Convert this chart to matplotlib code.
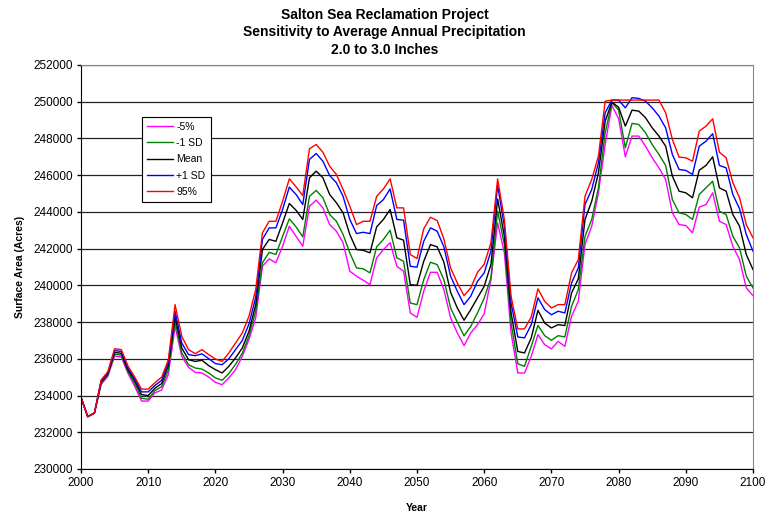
import numpy as np
import matplotlib
matplotlib.use("Agg")
import matplotlib.pyplot as plt

plt.rcParams['font.family'] = ['Liberation Sans', 'DejaVu Sans']

# Surface area (acres) by year
years = np.arange(2000, 2101)

pct5 = [233900, 232850, 233050, 234600, 235050, 236150, 236100, 235200, 234500, 233700,
        233700, 234150, 234300, 235150, 237770, 236130, 235540, 235260, 235230, 235010,
        234720, 234590, 234960, 235410, 236130, 237050, 238230, 241040, 241440, 241230,
        242130, 243220, 242670, 242130, 244310, 244640, 244220, 243310, 242950, 242320,
        240770, 240500, 240280, 240040, 241500, 241950, 242320, 241040, 240770, 238500,
        238260, 239680, 240710, 240710, 239770, 238230, 237410, 236720, 237410, 237860,
        238450, 240310, 243400, 241770, 237410, 235230, 235230, 236130, 237320, 236770,
        236540, 236950, 236680, 238320, 239130, 242220, 243220, 245040, 247670, 249800,
        249080, 247000, 248130, 248130, 247580, 246950, 246400, 245770, 243950, 243310,
        243260, 242860, 244260, 244400, 245040, 243490, 243310, 242130, 241400, 239860,
        239440]

minus_sd = [233900, 232850, 233050, 234680, 235120, 236250, 236200, 235300, 234650, 233850,
            233800, 234270, 234480, 235400, 238040, 236320, 235680, 235500, 235440, 235230,
            234960, 234830, 235200, 235700, 236300, 237250, 238600, 241230, 241800, 241680,
            242670, 243620, 243190, 242640, 244850, 245170, 244770, 243860, 243490, 242770,
            241770, 240950, 240900, 240680, 242100, 242500, 243000, 241500, 241310, 239040,
            238950, 240310, 241260, 241130, 240310, 238770, 237990, 237250, 237770, 238500,
            239300, 240410, 244040, 242220, 237950, 235730, 235590, 236680, 237820, 237260,
            237010, 237260, 237190, 238860, 239770, 242670, 243590, 245310, 248310, 249950,
            249550, 247490, 248820, 248760, 248310, 247670, 247130, 246530, 244670, 243950,
            243860, 243590, 244950, 245310, 245670, 244040, 243860, 242670, 242040, 240500,
            239860]

mean = [233900, 232850, 233050, 234750, 235200, 236350, 236300, 235400, 234800, 234050,
        234000, 234400, 234650, 235650, 238310, 236590, 235950, 235860, 235920, 235630,
        235410, 235230, 235590, 236050, 236590, 237500, 238950, 241950, 242500, 242400,
        243400, 244460, 244090, 243590, 245860, 246220, 245860, 244950, 244500, 243950,
        242770, 241950, 241910, 241770, 243190, 243590, 244130, 242590, 242460, 240040,
        240000, 241310, 242220, 242100, 241260, 239620, 238770, 238100, 238680, 239320,
        239950, 241130, 244700, 242680, 238500, 236400, 236320, 237140, 238640, 237950,
        237680, 237860, 237810, 239590, 240350, 243590, 244580, 246130, 248940, 249980,
        249700, 248670, 249540, 249490, 249130, 248580, 248130, 247580, 245950, 245130,
        245040, 244770, 246270, 246530, 247000, 245310, 245130, 243860, 243220, 241680,
        240860]

plus_sd = [233900, 232850, 233050, 234800, 235250, 236450, 236400, 235500, 234900, 234200,
           234200, 234550, 234830, 235800, 238590, 236860, 236230, 236170, 236270, 236010,
           235740, 235680, 236000, 236500, 237000, 237900, 239350, 242500, 243130, 243130,
           244130, 245350, 244950, 244400, 246860, 247180, 246760, 245980, 245590, 244850,
           243590, 242820, 242890, 242820, 244350, 244670, 245250, 243590, 243550, 241040,
           240990, 242400, 243130, 242950, 242100, 240500, 239680, 238950, 239410, 240220,
           240680, 241860, 245440, 243220, 239040, 237190, 237140, 237860, 239320, 238680,
           238400, 238590, 238500, 240130, 240950, 244400, 245220, 246680, 249400, 250090,
           250090, 249670, 250220, 250180, 250030, 249670, 249220, 248580, 247130, 246310,
           246260, 246040, 247580, 247850, 248260, 246530, 246400, 244950, 244170, 242770,
           241860]

pct95 = [233900, 232850, 233050, 234850, 235300, 236550, 236500, 235600, 235000, 234350,
         234350, 234700, 235000, 235950, 238950, 237220, 236500, 236280, 236500, 236230,
         235990, 235860, 236320, 236860, 237410, 238320, 239770, 242860, 243490, 243490,
         244580, 245800, 245370, 244890, 247440, 247670, 247250, 246490, 246040, 245220,
         244310, 243310, 243490, 243490, 244850, 245250, 245800, 244220, 244220, 241680,
         241460, 243080, 243710, 243530, 242530, 240950, 240130, 239440, 239860, 240710,
         241150, 242320, 245800, 243590, 239400, 237630, 237630, 238280, 239810, 239130,
         238770, 238950, 238950, 240680, 241400, 244850, 245770, 247040, 250030, 250090,
         250090, 250090, 250090, 250090, 250090, 250090, 250090, 249400, 247950, 246980,
         246950, 246760, 248400, 248670, 249070, 247250, 246950, 245590, 244770, 243310,
         242590]

labels = ['-5%', '-1 SD', 'Mean', '+1 SD', '95%']
colors = ['#ff00ff', '#008000', '#000000', '#0000ff', '#ff0000']

fig = plt.figure(figsize=(7.69, 5.18), dpi=100)
ax = fig.add_axes([81 / 769, 1 - 469 / 518, 672 / 769, 404 / 518])

# draw the lines
for vals, lab, col in zip([pct5, minus_sd, mean, plus_sd, pct95], labels, colors):
    ax.plot(years, vals, color=col, linewidth=1.0, label=lab)

ax.set_xlim(2000, 2100)
ax.set_ylim(230000, 252000)
ax.set_xticks(np.arange(2000, 2101, 10))
ax.set_yticks(np.arange(230000, 252001, 2000))
ax.tick_params(labelsize=8.5, direction='out', length=3, width=1, pad=3)

ax.grid(True, axis='y', color='#222222', linewidth=0.9)
ax.set_axisbelow(True)

for side in ['top', 'right']:
    ax.spines[side].set_color('#888888')
for side in ['left', 'bottom']:
    ax.spines[side].set_color('black')

ax.set_xlabel('Year', fontsize=7.5, fontweight='bold', labelpad=10)
ax.set_ylabel('Surface Area (Acres)', fontsize=7.5, fontweight='bold', labelpad=6)

fig.text(0.5, 1 - 8 / 518, 'Salton Sea Reclamation Project\n'
         'Sensitivity to Average Annual Precipitation\n2.0 to 3.0 Inches',
         ha='center', va='top', fontsize=10, fontweight='bold', linespacing=1.3)

leg = ax.legend(loc='upper left', bbox_to_anchor=(0.083, 0.885), fontsize=7.5,
                fancybox=False, framealpha=1, edgecolor='black', borderpad=0.5,
                handlelength=2.5, handletextpad=0.3, labelspacing=0.6)
leg.get_frame().set_linewidth(0.8)

plt.savefig('out.png', dpi=100)
